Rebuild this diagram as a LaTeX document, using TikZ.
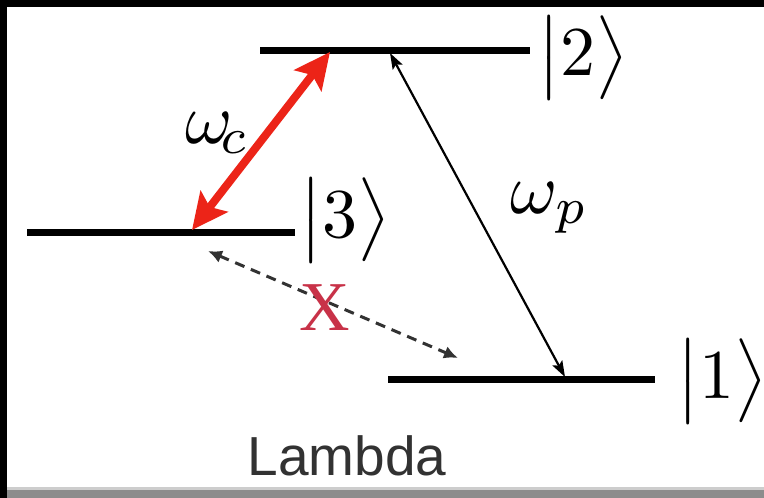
\documentclass[tikz,border=0pt]{standalone}
\usepackage{fontspec}
\setmainfont{Liberation Serif}
\newfontfamily\lamfont{Liberation Sans}
\usetikzlibrary{arrows.meta}
\definecolor{arrred}{RGB}{236,36,24}
\definecolor{xred}{RGB}{200,50,72}
\definecolor{dashgray}{RGB}{50,50,50}
\definecolor{bandgray}{RGB}{140,140,140}
\definecolor{bandlight}{RGB}{205,205,205}
\tikzset{
  level/.style={line width=7pt, black},
  ket/.style={inner sep=0pt, font=\fontsize{10}{12}\selectfont, scale=7},
  omega/.style={inner sep=0pt, anchor=base west, font=\fontsize{10}{12}\selectfont, scale=7.2},
  coupling/.style={line width=8pt, arrred,
    {Stealth[length=36pt,width=34pt,inset=7pt]}-{Stealth[length=36pt,width=34pt,inset=7pt]}},
  probe/.style={line width=2.2pt, black,
    {Stealth[length=16pt,width=11pt,inset=3pt]}-{Stealth[length=16pt,width=11pt,inset=3pt]}},
  forbidden/.style={line width=3pt, dashgray, dash pattern=on 10pt off 7pt,
    {Latex[length=14pt,width=13pt]}-{Latex[length=14pt,width=13pt]}}
}
\begin{document}
\begin{tikzpicture}[x=1pt,y=-1pt]
\useasboundingbox (0,0) rectangle (764,498);
% frame
\fill[black] (0,0) rectangle (764,498);
\fill[white] (7,7) rectangle (764,490);
\fill[bandlight] (7,487) rectangle (764,490);
\fill[bandgray] (7,490) rectangle (764,498);
% energy levels
\coordinate (L2a) at (260,50);  \coordinate (L2b) at (530,50);
\coordinate (L3a) at (27,232);  \coordinate (L3b) at (295,232);
\coordinate (L1a) at (388,379); \coordinate (L1b) at (655,379);
\draw[level] (L2a) -- (L2b);
\draw[level] (L3a) -- (L3b);
\draw[level] (L1a) -- (L1b);
% kets
\node[ket] (k2) at (583,58) {$\bigl|2\bigr\rangle$};
\node[ket] (k3) at (345,220) {$\bigl|3\bigr\rangle$};
\node[ket] (k1) at (722,381) {$\bigl|1\bigr\rangle$};
% transitions
\coordinate (c3) at (192,230);
\coordinate (c2) at (330,52);
\draw[coupling] (c3) -- (c2);
\coordinate (p2) at (390,53);
\coordinate (p1) at (565,377);
\draw[probe] (p2) -- (p1);
\coordinate (d3) at (208,251);
\coordinate (d1) at (458,358);
\draw[forbidden] (d3) -- (d1);
% labels
\node[omega] (wc) at (184,143) {$\omega_{\!c}$};
\node[omega] (wp) at (509,213) {$\omega_p$};
\node[inner sep=0pt, text=xred, font=\fontsize{70}{80}\selectfont] (x) at (325,308) {X};
\node[inner sep=0pt, anchor=base, text={rgb,255:red,50;green,50;blue,50}, font=\lamfont\fontsize{55}{60}\selectfont] (lam) at (347,475) {Lambda};
\end{tikzpicture}
\end{document}
